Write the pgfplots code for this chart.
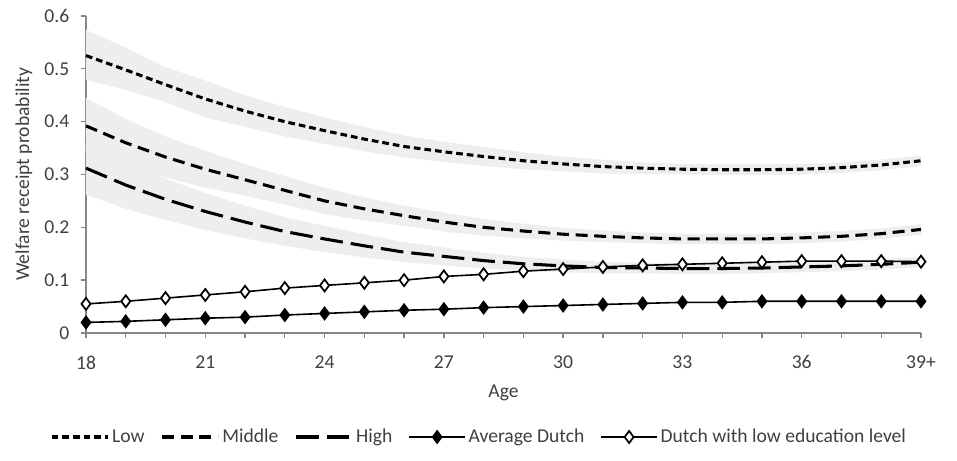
\documentclass[border=0pt]{standalone}
\usepackage{pgfplots}
\pgfplotsset{compat=1.18}
\usepackage{fontspec}
\setmainfont{Carlito}
\definecolor{axgray}{RGB}{134,134,134}
\definecolor{band}{RGB}{238,238,238}
\definecolor{txt}{RGB}{64,64,64}
\newcommand{\fs}{\fontsize{14.7}{17}\selectfont}
\begin{document}
\begin{tikzpicture}
\begin{axis}[
  scale only axis,
  width=626.25pt, height=237.75pt,
  xmin=18, xmax=39, ymin=0, ymax=0.6,
  axis x line*=bottom, axis y line*=left,
  axis line style={axgray, line width=1pt},
  xtick={18,21,...,39}, xticklabels={18,21,24,27,30,33,36,39+},
  minor xtick={18,...,39},
  ytick={0,0.1,...,0.6},
  yticklabel style={/pgf/number format/fixed, /pgf/number format/precision=1, xshift=-5pt},
  /pgf/number format/assume math mode=true,
  tick style={axgray, line width=1pt},
  major tick length=4pt, minor tick length=4pt,
  xtick pos=bottom, ytick pos=left,
  tick align=outside,
  ticklabel style={font=\fs, text=txt},
  xticklabel style={yshift=-9.5pt},
  xlabel={Age}, ylabel={Welfare receipt probability},
  every axis x label/.style={at={(rel axis cs:0.5,0)}, anchor=center, yshift=-45pt, font=\fs, text=txt},
  every axis y label/.style={at={(rel axis cs:0,0.5)}, xshift=-46.5pt, rotate=90, anchor=center, font=\fs, text=txt},
  legend style={at={(rel axis cs:0.5,0)}, anchor=center, xshift=-18pt, yshift=-78pt, draw=none, fill=none, legend columns=-1,
    font=\fs, text=txt,
    /tikz/every even column/.append style={column sep=10pt}},
  legend image code/.code={\draw[mark repeat=2,mark phase=2,#1] plot coordinates {(0pt,0pt) (21pt,0pt) (42pt,0pt)};},
  legend cell align=left,
  clip=false,
]
% bounding box padding
\path (rel axis cs:0,0) ++(-64.5pt,-96pt) coordinate (bbA);
\path (rel axis cs:1,1) ++(27pt,12pt) coordinate (bbB);
% confidence bands
\addplot[fill=band, draw=none, forget plot] coordinates {
(18,0.574)(19,0.540)(20,0.503)(21,0.478)(22,0.450)(23,0.428)(24,0.408)(25,0.390)(26,0.374)(27,0.362)(28,0.352)(29,0.342)(30,0.334)(31,0.328)(32,0.323)(33,0.320)(34,0.319)(35,0.319)(36,0.320)(37,0.323)(38,0.328)(39,0.336)
(39,0.316)(38,0.308)(37,0.303)(36,0.300)(35,0.299)(34,0.299)(33,0.300)(32,0.301)(31,0.302)(30,0.306)(29,0.310)(28,0.316)(27,0.324)(26,0.332)(25,0.344)(24,0.358)(23,0.372)(22,0.390)(21,0.408)(20,0.437)(19,0.460)(18,0.479)} -- cycle;
\addplot[fill=band, draw=none, forget plot] coordinates {
(18,0.445)(19,0.405)(20,0.372)(21,0.345)(22,0.320)(23,0.297)(24,0.275)(25,0.257)(26,0.241)(27,0.228)(28,0.216)(29,0.207)(30,0.199)(31,0.194)(32,0.190)(33,0.188)(34,0.188)(35,0.188)(36,0.190)(37,0.193)(38,0.198)(39,0.206)
(39,0.186)(38,0.178)(37,0.173)(36,0.170)(35,0.168)(34,0.168)(33,0.168)(32,0.170)(31,0.172)(30,0.175)(29,0.179)(28,0.184)(27,0.192)(26,0.203)(25,0.213)(24,0.225)(23,0.243)(22,0.260)(21,0.275)(20,0.294)(19,0.315)(18,0.340)} -- cycle;
\addplot[fill=band, draw=none, forget plot] coordinates {
(18,0.362)(19,0.325)(20,0.292)(21,0.265)(22,0.241)(23,0.219)(24,0.203)(25,0.187)(26,0.172)(27,0.162)(28,0.152)(29,0.144)(30,0.139)(31,0.135)(32,0.133)(33,0.132)(34,0.132)(35,0.133)(36,0.135)(37,0.137)(38,0.140)(39,0.144)
(39,0.124)(38,0.120)(37,0.117)(36,0.115)(35,0.113)(34,0.112)(33,0.112)(32,0.113)(31,0.113)(30,0.115)(29,0.118)(28,0.122)(27,0.128)(26,0.134)(25,0.143)(24,0.153)(23,0.165)(22,0.179)(21,0.195)(20,0.214)(19,0.235)(18,0.262)} -- cycle;
% Low
\addplot[black, line width=2.3pt, dash pattern=on 5pt off 3pt] coordinates {
(18,0.525)(19,0.498)(20,0.470)(21,0.443)(22,0.420)(23,0.400)(24,0.383)(25,0.367)(26,0.353)(27,0.343)(28,0.334)(29,0.326)(30,0.320)(31,0.315)(32,0.312)(33,0.310)(34,0.309)(35,0.309)(36,0.310)(37,0.313)(38,0.318)(39,0.326)};
\addlegendentry{Low}
% Middle
\addplot[black, line width=2.3pt, dash pattern=on 9pt off 5pt] coordinates {
(18,0.392)(19,0.360)(20,0.333)(21,0.310)(22,0.290)(23,0.270)(24,0.250)(25,0.235)(26,0.222)(27,0.210)(28,0.200)(29,0.193)(30,0.187)(31,0.183)(32,0.180)(33,0.178)(34,0.178)(35,0.178)(36,0.180)(37,0.183)(38,0.188)(39,0.196)};
\addlegendentry{Middle}
% High
\addplot[black, line width=2.3pt, dash pattern=on 17pt off 6pt] coordinates {
(18,0.312)(19,0.280)(20,0.253)(21,0.230)(22,0.210)(23,0.192)(24,0.178)(25,0.165)(26,0.153)(27,0.145)(28,0.137)(29,0.131)(30,0.127)(31,0.124)(32,0.123)(33,0.122)(34,0.122)(35,0.123)(36,0.125)(37,0.127)(38,0.130)(39,0.134)};
\addlegendentry{High}
% Average Dutch
\addplot[black, line width=1.2pt, mark=diamond*, mark size=4.5pt, mark options={fill=black, solid}] coordinates {
(18,0.020)(19,0.022)(20,0.025)(21,0.028)(22,0.030)(23,0.034)(24,0.037)(25,0.040)(26,0.043)(27,0.045)(28,0.048)(29,0.050)(30,0.052)(31,0.054)(32,0.056)(33,0.058)(34,0.058)(35,0.060)(36,0.060)(37,0.060)(38,0.060)(39,0.060)};
\addlegendentry{Average Dutch}
% Dutch low education
\addplot[black, line width=1.2pt, mark=diamond*, mark size=4.5pt, mark options={fill=white, line width=1.3pt, solid}] coordinates {
(18,0.055)(19,0.060)(20,0.066)(21,0.072)(22,0.078)(23,0.085)(24,0.090)(25,0.095)(26,0.100)(27,0.107)(28,0.111)(29,0.117)(30,0.121)(31,0.125)(32,0.128)(33,0.130)(34,0.132)(35,0.134)(36,0.136)(37,0.136)(38,0.136)(39,0.135)};
\addlegendentry{Dutch with low education level}
\end{axis}
\end{tikzpicture}
\end{document}
